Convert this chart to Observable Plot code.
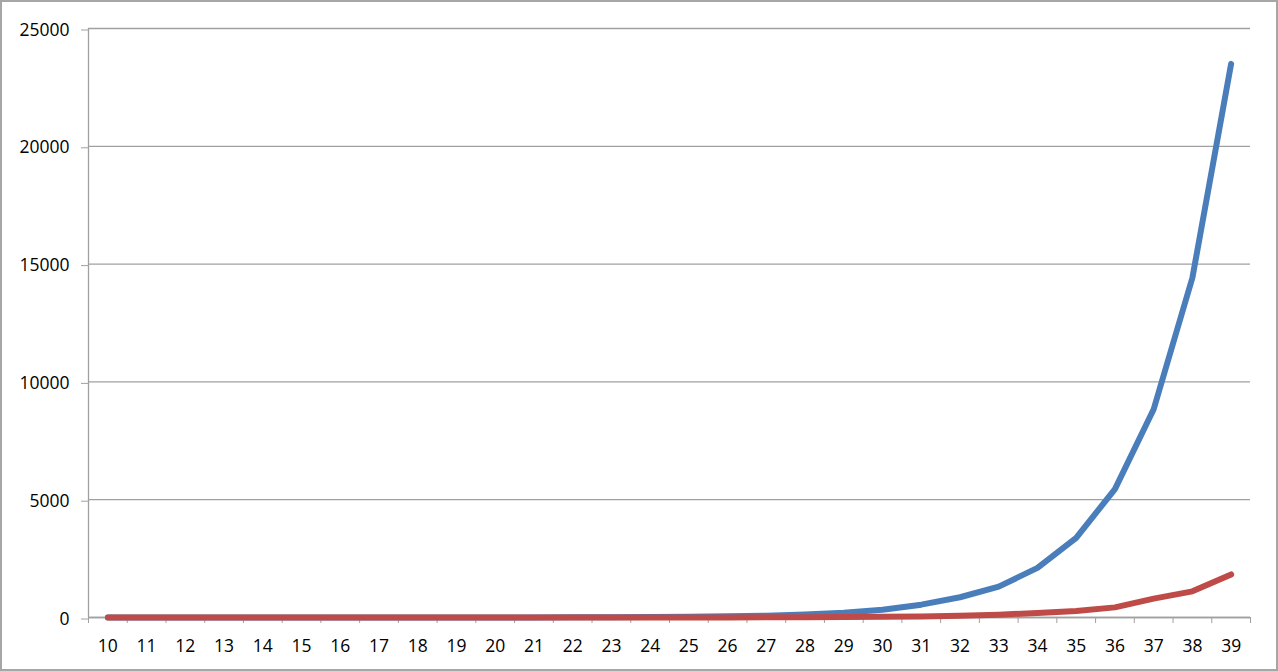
<!DOCTYPE html>
<html><head><meta charset="utf-8">
<script src="https://cdn.jsdelivr.net/npm/d3@7"></script>
<script src="https://cdn.jsdelivr.net/npm/@observablehq/plot@0.6"></script>
<style>
body{margin:0;background:#fff}
#chart svg{display:block;outline:2px solid #a6a6a6;outline-offset:-2px}
</style>
</head><body><div id="chart"></div><script>
const categories = [10,11,12,13,14,15,16,17,18,19,20,21,22,23,24,25,26,27,28,29,30,31,32,33,34,35,36,37,38,39];
const blueSeries = [0,0,0,0,0,0,0,1,1,2,3,4,7,11,18,30,48,78,127,205,330,545,860,1310,2105,3380,5450,8840,14420,23500];
const redSeries  = [0,0,0,0,0,0,0,0,0,0,0,0,0,1,2,3,4,7,11,17,28,45,75,120,190,280,430,800,1110,1830];
const yTicks = [0,5000,10000,15000,20000,25000];
const xBounds = d3.range(categories.length + 1).map(i => categories[0] - 0.5 + i);

const gray = "#a0a0a0";
const fs = 17.5;
const chart = Plot.plot({
  width: 1278, height: 671,
  marginLeft: 88, marginRight: 28, marginTop: 28, marginBottom: 54,
  style: {fontFamily: "'Open Sans'", fontSize: fs + "px", color: "#000", background: "#fff"},
  x: {type: "linear", domain: [categories[0] - 0.5, categories[categories.length - 1] + 0.5]},
  y: {domain: [0, 25000]},
  marks: [
    Plot.gridY(yTicks, {stroke: gray, strokeOpacity: 1, strokeWidth: 1.3}),
    Plot.axisY(yTicks, {tickSize: 7, tickPadding: 12, stroke: gray, fill: "#000", tickFormat: d => String(d), dy: 1.5, label: null, fontSize: fs}),
    Plot.axisX(xBounds, {tickSize: 6, stroke: gray, tickFormat: () => "", label: null}),
    Plot.axisX(categories, {tickSize: 0, tickPadding: 22, fill: "#000", tickFormat: d => String(d), label: null, fontSize: fs}),
    Plot.ruleX([categories[0] - 0.5], {stroke: gray, strokeWidth: 1.3}),
    Plot.ruleY([0], {stroke: gray, strokeWidth: 1.3}),
    Plot.line(categories, {x: d => d, y: (d, i) => blueSeries[i], stroke: "#4a7ebb", strokeWidth: 6, strokeLinecap: "round", strokeLinejoin: "round"}),
    Plot.line(categories, {x: d => d, y: (d, i) => redSeries[i], stroke: "#be4b48", strokeWidth: 6, strokeLinecap: "round", strokeLinejoin: "round"})
  ]
});
document.getElementById("chart").append(chart);
</script></body></html>
